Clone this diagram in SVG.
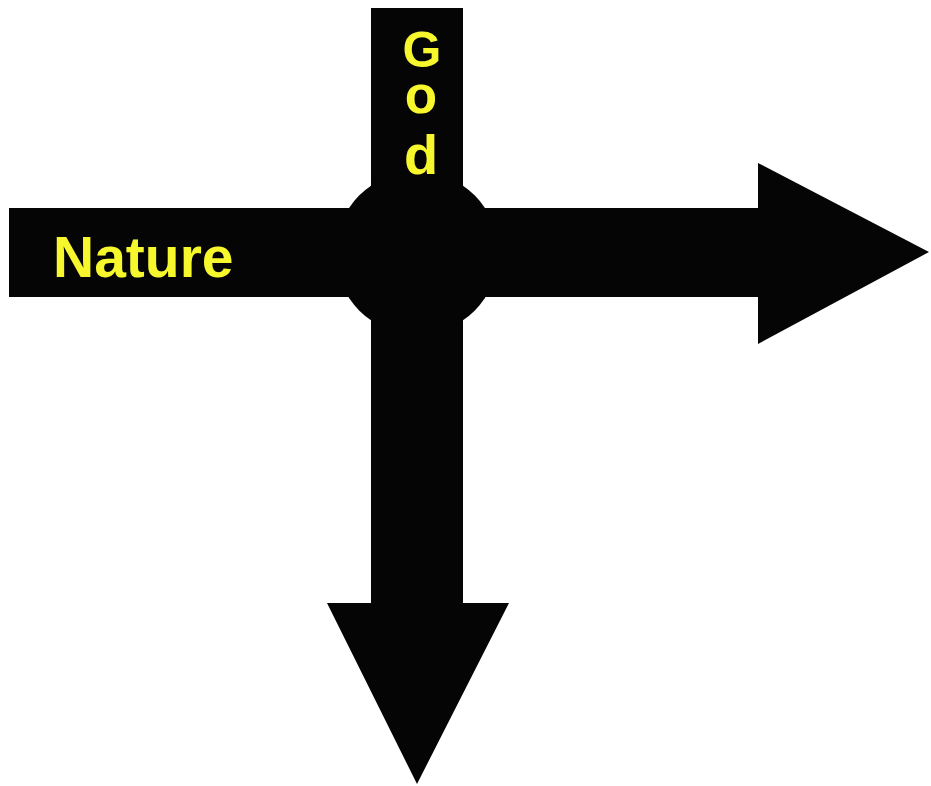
<svg xmlns="http://www.w3.org/2000/svg" width="931" height="786" viewBox="0 0 931 786">
  <style>
    .shape { fill: #050505; }
    .label { fill: #f7f72e; font-family: "Liberation Sans", Arial, sans-serif; font-weight: bold; }
  </style>
  <rect width="931" height="786" fill="#ffffff"/>
  <g id="connectors">
    <polygon class="shape" points="9,208 758,208 758,163 929,252 758,344 758,297 9,297"/>
    <polygon class="shape" points="371,8 463,8 463,603 509,603 417,784 327,603 371,603"/>
  </g>
  <g id="center">
    <circle class="shape" cx="417" cy="253" r="81.5"/>
  </g>
  <g id="god">
    <text class="label" x="422" y="67" font-size="50" text-anchor="middle">G</text>
    <text class="label" x="421" y="113" font-size="53" text-anchor="middle">o</text>
    <text class="label" x="421" y="174" font-size="56" text-anchor="middle">d</text>
  </g>
  <g id="nature">
    <text class="label" x="53" y="277" font-size="57">Nature</text>
  </g>
</svg>
